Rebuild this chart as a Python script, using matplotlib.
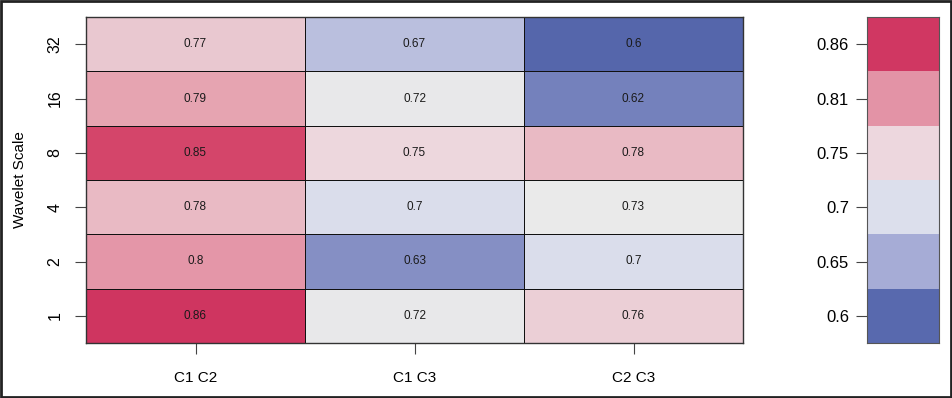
import matplotlib.pyplot as plt
import numpy as np
from matplotlib.colors import LinearSegmentedColormap, Normalize

plt.rcParams['font.family'] = ['Liberation Sans', 'DejaVu Sans']

# data
pairs = ["C1 C2", "C1 C3", "C2 C3"]
scales = ["1", "2", "4", "8", "16", "32"]
c1_c2 = [0.86, 0.80, 0.78, 0.85, 0.79, 0.77]
c1_c3 = [0.72, 0.63, 0.70, 0.75, 0.72, 0.67]
c2_c3 = [0.76, 0.70, 0.73, 0.78, 0.62, 0.60]
legend_labels = ["0.6", "0.65", "0.7", "0.75", "0.81", "0.86"]
legend_colors = ["#5869AE", "#A6ACD6", "#DCDFEC", "#EDD7DE", "#E393A6", "#D03762"]

# colour ramp
anchors = [(0.60, "#5566AB"), (0.65, "#A6ACD6"), (0.70, "#DADDEB"), (0.72, "#E8E8EA"),
           (0.73, "#EAEAEA"), (0.75, "#EDD7DD"), (0.77, "#E9C8D0"), (0.78, "#E9BBC5"),
           (0.79, "#E6A5B2"), (0.80, "#E496A8"), (0.85, "#D4466B"), (0.86, "#CF3560")]
vmin, vmax = 0.60, 0.86
cmap = LinearSegmentedColormap.from_list(
    "rb", [((v - vmin) / (vmax - vmin), c) for v, c in anchors])

grid = np.array([c1_c2, c1_c3, c2_c3]).T

fig = plt.figure(figsize=(9.52, 3.98), dpi=100)
W, H = 952, 398

ax = fig.add_axes([86 / W, 1 - 343 / H, (743 - 86) / W, (343 - 17) / H])
ax.pcolormesh(grid, cmap=cmap, norm=Normalize(vmin, vmax),
              edgecolors="#111111", linewidth=0.6)
for i in range(grid.shape[0]):
    for j in range(grid.shape[1]):
        ax.text(j + 0.5, i + 0.5, f"{grid[i, j]:g}", ha="center", va="center",
                fontsize=8.5, color="#1a1a1a")
ax.set_xlim(0, 3)
ax.set_ylim(0, 6)
ax.set_xticks(np.arange(3) + 0.5, pairs, fontsize=11)
ax.set_yticks(np.arange(6) + 0.5, scales, fontsize=11.5, rotation=90, va="center")
ax.tick_params(axis="x", length=8, width=0.8, color="#444444", pad=12)
ax.tick_params(axis="y", length=8, width=0.8, color="#444444", pad=9)
ax.set_ylabel("Wavelet Scale", fontsize=11, labelpad=15)
for s in ax.spines.values():
    s.set_color("#333333")
    s.set_linewidth(1.0)

cax = fig.add_axes([867 / W, 1 - 343 / H, (939 - 867) / W, (343 - 17) / H])
for k, c in enumerate(legend_colors):
    cax.axhspan(k, k + 1, color=c, lw=0)
cax.set_xlim(0, 1)
cax.set_ylim(0, 6)
cax.set_xticks([])
cax.set_yticks(np.arange(6) + 0.5, legend_labels, fontsize=12)
cax.tick_params(length=8, width=0.8, color="#444444", pad=5)
for s in cax.spines.values():
    s.set_color("#555555")
    s.set_linewidth(0.8)

# outer frame
fig.patches.append(plt.Rectangle((0.001, 0.002), 0.998, 0.996, transform=fig.transFigure,
                                 fill=False, edgecolor="#222222", linewidth=2))

fig.savefig("out.png", dpi=100)
